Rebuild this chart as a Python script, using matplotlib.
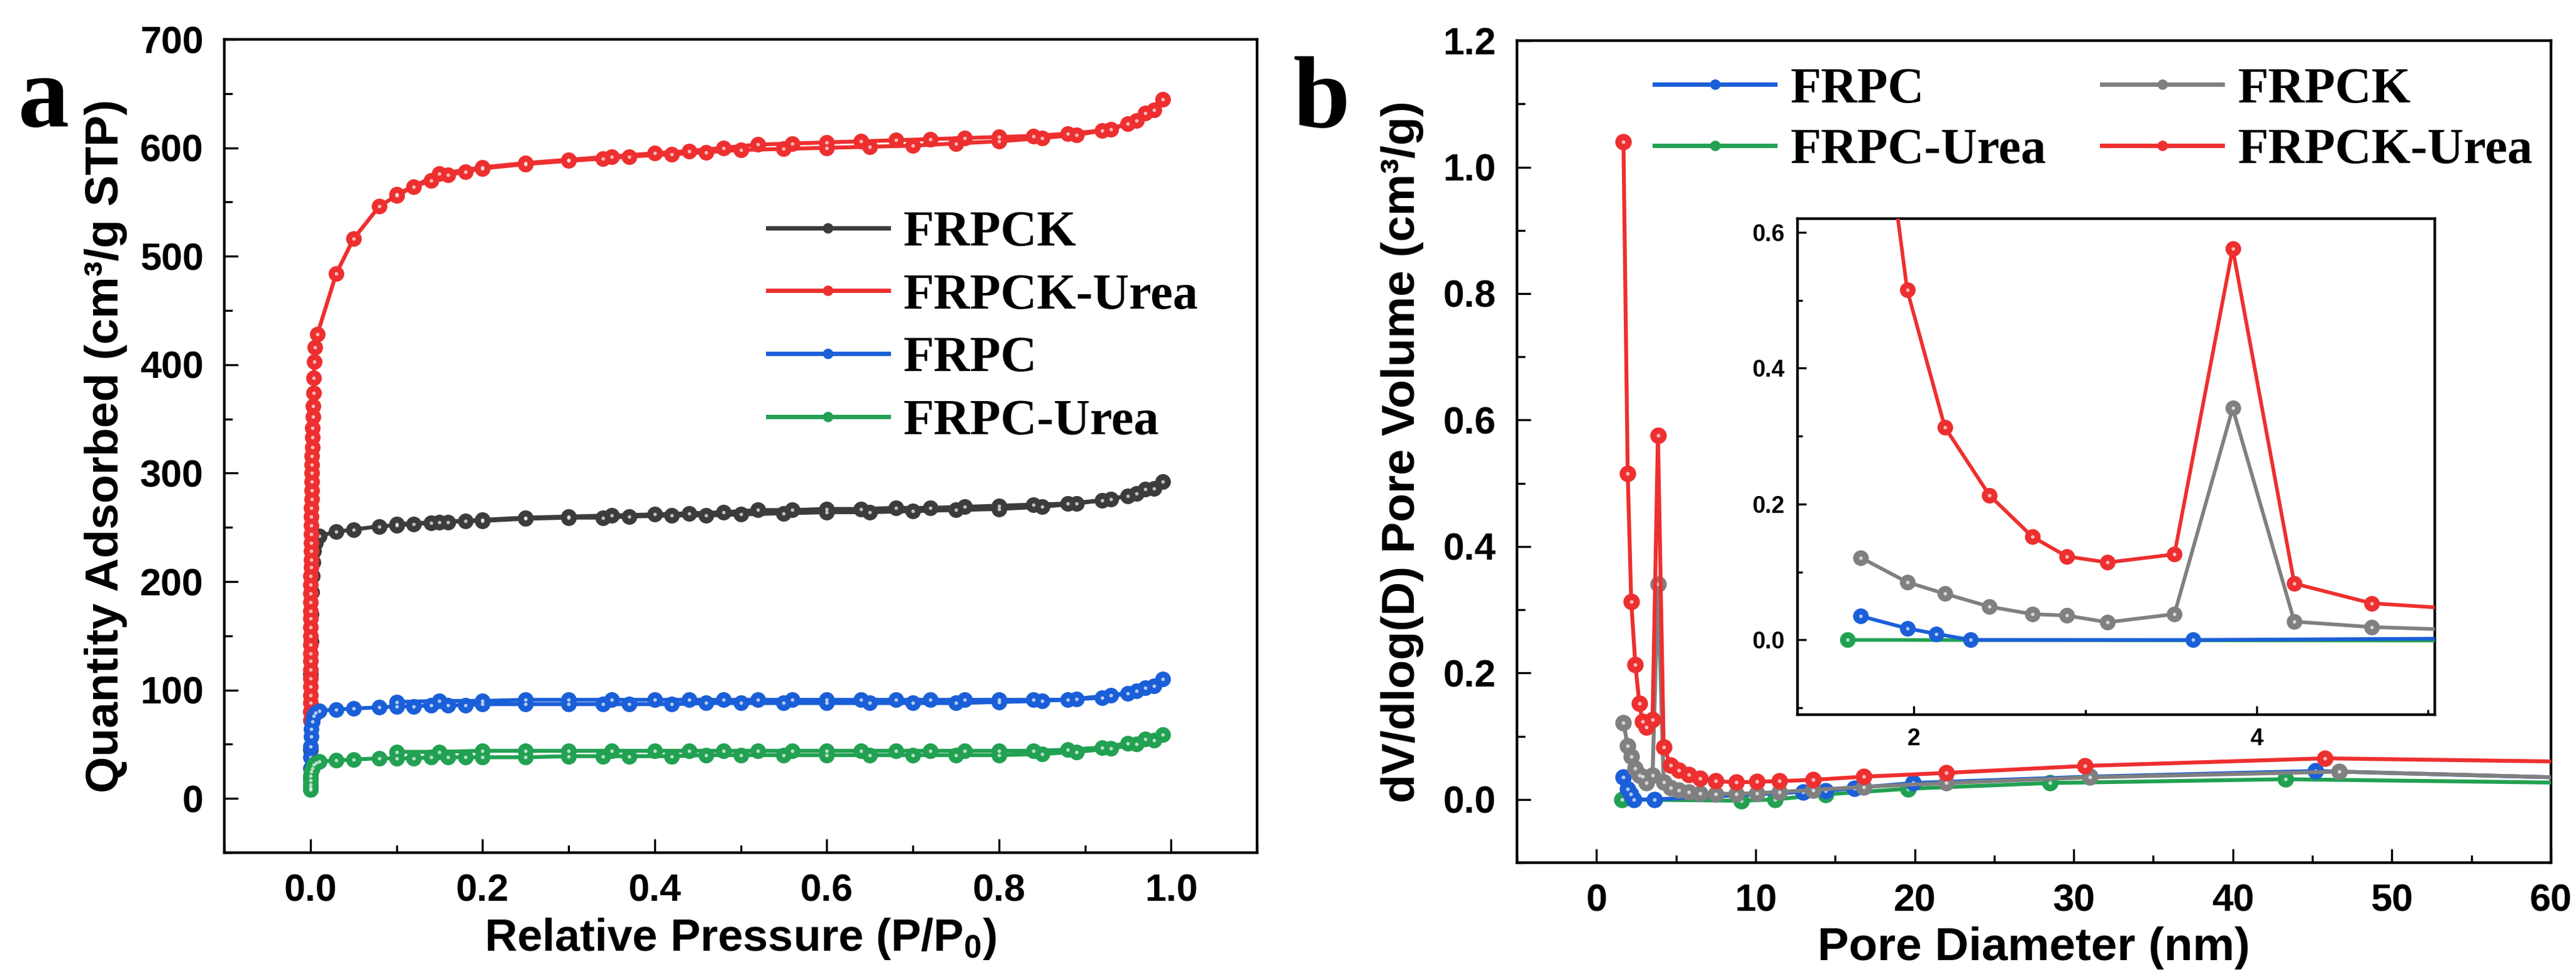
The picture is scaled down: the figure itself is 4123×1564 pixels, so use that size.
import matplotlib
matplotlib.use('Agg')
import matplotlib.pyplot as plt
from matplotlib.ticker import MultipleLocator, FormatStrFormatter
from matplotlib.lines import Line2D

plt.rcParams['font.family'] = ['Liberation Sans', 'DejaVu Sans']
plt.rcParams['font.weight'] = 'bold'
plt.rcParams['mathtext.fontset'] = 'custom'
plt.rcParams['mathtext.bf'] = 'Liberation Sans:bold'
plt.rcParams['mathtext.rm'] = 'Liberation Sans:bold'
plt.rcParams['mathtext.default'] = 'bf'

# ---- (a) N2 isotherms ----
# shared pressure grids (adsorption up, desorption down)
p_ads = [0.03, 0.05, 0.08, 0.10, 0.12, 0.14, 0.16, 0.18, 0.20, 0.25, 0.30, 0.34, 0.37, 0.42,
         0.46, 0.50, 0.55, 0.60, 0.65, 0.70, 0.75, 0.80, 0.85, 0.89, 0.93, 0.96, 0.98, 0.99]
p_des = [0.97, 0.95, 0.92, 0.88, 0.84, 0.80, 0.76, 0.72, 0.68, 0.64, 0.60, 0.56, 0.52, 0.48,
         0.44, 0.40, 0.35, 0.30, 0.25, 0.20, 0.15, 0.10]

# low pressure parts
frpck_urea_p_low = [0.00001, 0.00002, 0.00003, 0.00004, 0.00005, 0.00006, 0.00008, 0.0001, 0.00012,
                    0.00014, 0.00017, 0.0002, 0.00023, 0.00027, 0.0003, 0.00035, 0.0004, 0.00045,
                    0.0005, 0.00055, 0.0006, 0.0007, 0.0008, 0.0009, 0.001, 0.0011, 0.0012, 0.0013,
                    0.0014, 0.0015, 0.0017, 0.0019, 0.0021, 0.0023, 0.0026, 0.0029, 0.0032, 0.0036,
                    0.004, 0.0045, 0.005, 0.008]
frpck_urea_q_low = [72, 80, 88, 95, 103, 111, 119, 127, 134, 142, 150, 158, 166, 173, 181, 189, 197,
                    205, 213, 220, 228, 236, 244, 252, 260, 268, 276, 284, 292, 300, 308, 316, 324,
                    333, 342, 352, 362, 374, 388, 403, 416, 428]
frpck_p_low = [0.0001, 0.0002, 0.0004, 0.0006, 0.001, 0.0015, 0.002, 0.003, 0.004, 0.006, 0.01]
frpck_q_low = [45, 80, 115, 145, 170, 190, 205, 218, 228, 236, 242]
frpc_p_low = [0.00005, 0.0001, 0.0002, 0.0004, 0.0007, 0.001, 0.002, 0.004, 0.006, 0.01]
frpc_q_low = [18, 28, 38, 48, 57, 64, 71, 76, 79, 81]
frpc_urea_p_low = [0.00002, 0.00005, 0.0001, 0.0002, 0.0004, 0.001, 0.002, 0.004, 0.007, 0.01]
frpc_urea_q_low = [8, 10, 13, 17, 21, 25, 28, 31, 33, 34]

frpck_urea_ads = [484, 516, 546, 556, 564, 570, 575, 578, 581, 585, 588, 590, 592, 594,
                  596, 598, 599, 600, 601, 602, 604, 606, 609, 612, 617, 625, 635, 645]
frpck_urea_des = [632, 622, 616, 613, 611, 610, 609, 608, 607, 606, 605, 604, 603, 600,
                  597, 595, 592, 589, 586, 582, 576, 557]
frpck_ads = [246, 248, 251, 252, 253, 254, 255, 256, 256, 258, 259, 259, 260, 261,
             261, 262, 263, 264, 264, 265, 266, 267, 269, 272, 276, 281, 286, 292]
frpck_des = [285, 279, 275, 272, 271, 270, 269, 268, 268, 267, 267, 266, 266, 264,
             263, 262, 261, 260, 259, 257, 255, 253]
frpc_ads = [82, 83, 84, 85, 85, 86, 86, 86, 87, 87, 87, 87, 87, 87,
            88, 88, 88, 88, 88, 88, 88, 89, 90, 92, 95, 99, 104, 110]
frpc_des = [102, 97, 93, 91, 91, 91, 91, 91, 91, 91, 91, 91, 91, 91,
            91, 91, 91, 91, 91, 90, 90, 89]
frpc_urea_ads = [35, 36, 37, 37, 37, 38, 38, 38, 38, 38, 39, 39, 39, 39,
                 40, 40, 40, 40, 40, 40, 40, 40, 41, 43, 46, 50, 54, 59]
frpc_urea_des = [55, 51, 47, 45, 44, 44, 44, 44, 44, 44, 44, 44, 44, 44,
                 44, 44, 44, 44, 44, 44, 43, 43]

# ---- (b) BJH pore size distribution ----
frpck_urea_d = [1.69, 1.96, 2.18, 2.44, 2.69, 2.89, 3.13, 3.52, 3.86, 4.22, 4.67, 5.16, 5.80, 6.50,
                7.50, 8.80, 10.1, 11.5, 13.6, 16.8, 22.0, 30.7, 45.8, 75.0]
frpck_urea_v = [1.04, 0.515, 0.313, 0.213, 0.152, 0.123, 0.114, 0.126, 0.576, 0.083, 0.054, 0.046,
                0.039, 0.033, 0.029, 0.027, 0.028, 0.029, 0.031, 0.036, 0.042, 0.053, 0.065, 0.055]
frpck_d = [1.69, 1.96, 2.18, 2.44, 2.69, 2.89, 3.13, 3.52, 3.86, 4.22, 4.67, 5.16, 5.80, 6.50,
           7.50, 8.80, 10.1, 11.5, 13.6, 16.8, 22.0, 31.0, 46.7, 75.0]
frpck_v = [0.121, 0.085, 0.068, 0.049, 0.038, 0.036, 0.026, 0.038, 0.341, 0.027, 0.019, 0.015,
           0.012, 0.010, 0.009, 0.009, 0.010, 0.012, 0.015, 0.020, 0.026, 0.035, 0.044, 0.025]
frpc_d = [1.69, 1.96, 2.13, 2.33, 3.63, 13.0, 14.4, 16.2, 19.9, 31.0, 45.2, 75.0]
frpc_v = [0.035, 0.017, 0.009, 0.000, 0.000, 0.012, 0.014, 0.018, 0.026, 0.036, 0.045, 0.025]
frpc_urea_d = [1.61, 9.1, 11.2, 14.4, 19.6, 28.5, 43.3, 75.0]
frpc_urea_v = [0.000, -0.002, 0.000, 0.008, 0.017, 0.026, 0.032, 0.022]

RED = '#EE2F2F'
BLUE = '#1B5FD8'
GREEN = '#22A152'
DGRAY = '#3C3C3C'
LGRAY = '#808080'

serif = ['Liberation Serif', 'DejaVu Serif']


def draw(ax, x, y, color, ms, lw, z):
    ln, = ax.plot(x, y, '-o', color=color, lw=lw, ms=ms, mec=color, mfc=color, zorder=z)
    # small highlight in the ball markers
    ax.plot(x, y, 'o', color='white', ms=ms * 0.18, alpha=0.6, zorder=z + 0.5)
    return ln


def style(ax, size, major, minor, width):
    ax.tick_params(which='major', direction='in', length=major, width=width,
                   labelsize=size, pad=size * 0.55, top=False, right=False)
    ax.tick_params(which='minor', direction='in', length=minor, width=width, top=False, right=False)
    for s in ax.spines.values():
        s.set_linewidth(width * 1.3)
    for t in ax.get_xticklabels() + ax.get_yticklabels():
        t.set_fontweight('bold')


def handle(c, name):
    return Line2D([], [], color=c, lw=5, marker='o', ms=11, label=name)


fig = plt.figure(figsize=(41.23, 15.64), dpi=100)

# panel a
ax1 = fig.add_axes([0.0871, 0.1272, 0.4009, 0.8325])
curves = [
    ('FRPCK', DGRAY, frpck_p_low, frpck_q_low, frpck_ads, frpck_des, 3),
    ('FRPCK-Urea', RED, frpck_urea_p_low, frpck_urea_q_low, frpck_urea_ads, frpck_urea_des, 4),
    ('FRPC', BLUE, frpc_p_low, frpc_q_low, frpc_ads, frpc_des, 5),
    ('FRPC-Urea', GREEN, frpc_urea_p_low, frpc_urea_q_low, frpc_urea_ads, frpc_urea_des, 6),
]
handles_a = []
for name, c, pl, ql, qa, qd, z in curves:
    draw(ax1, pl + p_ads + p_des, ql + qa + qd, c, 17, 4.5, z)
    handles_a.append(handle(c, name))

ax1.set_xlim(-0.1, 1.1)
ax1.set_ylim(-50, 700)
ax1.xaxis.set_major_locator(MultipleLocator(0.2))
ax1.xaxis.set_minor_locator(MultipleLocator(0.1))
ax1.xaxis.set_major_formatter(FormatStrFormatter('%.1f'))
ax1.yaxis.set_major_locator(MultipleLocator(100))
ax1.yaxis.set_minor_locator(MultipleLocator(50))
style(ax1, 44, 16, 9, 2.4)
ax1.set_xlabel('Relative Pressure (P/P$_0$)', fontsize=52, fontweight='bold', labelpad=8)
ax1.set_ylabel('Quantity Adsorbed (cm³/g STP)', fontsize=54, fontweight='bold', labelpad=14)
ax1.legend(handles=handles_a, loc='upper left', bbox_to_anchor=(0.526, 0.79), frameon=False,
           prop={'family': serif, 'weight': 'bold', 'size': 58}, handlelength=2.4,
           handletextpad=0.3, labelspacing=0.34, borderpad=0, borderaxespad=0)

# panel b
ax2 = fig.add_axes([0.5889, 0.117, 0.4014, 0.8414])
series_b = [
    ('FRPC-Urea', GREEN, frpc_urea_d, frpc_urea_v, 3),
    ('FRPC', BLUE, frpc_d, frpc_v, 4),
    ('FRPCK', LGRAY, frpck_d, frpck_v, 5),
    ('FRPCK-Urea', RED, frpck_urea_d, frpck_urea_v, 6),
]
colors_b = {}
for name, c, d, v, z in series_b:
    draw(ax2, d, v, c, 18, 4.5, z)
    colors_b[name] = c

ax2.set_xlim(-5, 60)
ax2.set_ylim(-0.1, 1.2)
ax2.xaxis.set_major_locator(MultipleLocator(10))
ax2.xaxis.set_minor_locator(MultipleLocator(5))
ax2.yaxis.set_major_locator(MultipleLocator(0.2))
ax2.yaxis.set_minor_locator(MultipleLocator(0.1))
ax2.yaxis.set_major_formatter(FormatStrFormatter('%.1f'))
style(ax2, 44, 16, 9, 2.4)
ax2.set_xlabel('Pore Diameter (nm)', fontsize=54, fontweight='bold', labelpad=8)
ax2.set_ylabel('dV/dlog(D) Pore Volume (cm³/g)', fontsize=54, fontweight='bold', labelpad=22)
order = ['FRPC', 'FRPC-Urea', 'FRPCK', 'FRPCK-Urea']
handles_b = [handle(colors_b[n], n) for n in order]
ax2.legend(handles=handles_b, loc='upper left', bbox_to_anchor=(0.133, 0.968), ncol=2,
           frameon=False, prop={'family': serif, 'weight': 'bold', 'size': 58},
           handlelength=2.4, handletextpad=0.3, labelspacing=0.3, columnspacing=1.1,
           borderpad=0, borderaxespad=0)

# inset
ins = fig.add_axes([0.6978, 0.2685, 0.2474, 0.5077])
for name, c, d, v, z in series_b:
    draw(ins, d, v, c, 17, 4.2, z)
ins.set_xlim(1.32, 5.04)
ins.set_ylim(-0.11, 0.62)
ins.xaxis.set_major_locator(MultipleLocator(2))
ins.xaxis.set_minor_locator(MultipleLocator(1))
ins.yaxis.set_major_locator(MultipleLocator(0.2))
ins.yaxis.set_minor_locator(MultipleLocator(0.1))
ins.yaxis.set_major_formatter(FormatStrFormatter('%.1f'))
style(ins, 27, 10, 6, 2.4)

fig.text(0.017, 0.871, 'a', family=serif, weight='bold', fontsize=118, ha='center', va='baseline')
fig.text(0.513, 0.871, 'b', family=serif, weight='bold', fontsize=118, ha='center', va='baseline')

fig.savefig('out.png', dpi=100, facecolor='white')
